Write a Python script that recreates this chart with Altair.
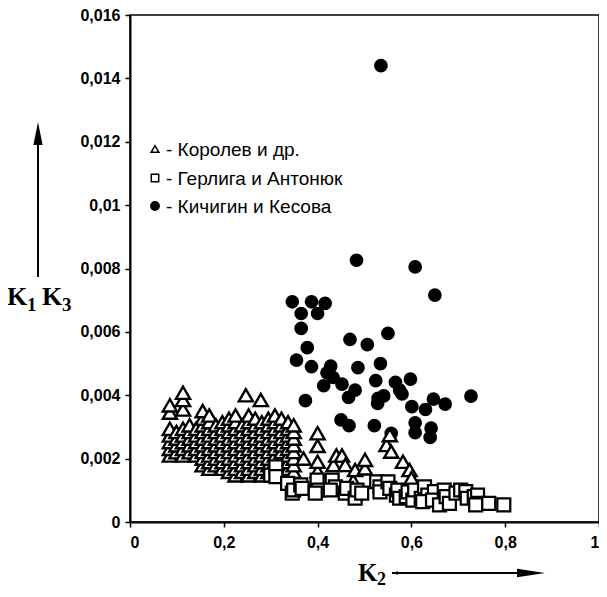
import altair as alt
import pandas as pd

# ---------------- data ----------------
SERIES = ["Королев и др.", "Герлига и Антонюк", "Кичигин и Кесова"]
LEGEND_LABELS = ["- Королев и др.", "- Герлига и Антонюк", "- Кичигин и Кесова"]

# Кичигин и Кесова (filled circles)
circ_k2 = [0.535, 0.483, 0.608, 0.650, 0.346, 0.387, 0.416, 0.365, 0.400, 0.365,
           0.550, 0.469, 0.506, 0.378, 0.355, 0.387, 0.428, 0.420, 0.433, 0.486,
           0.534, 0.413, 0.452, 0.480, 0.466, 0.524, 0.566, 0.575, 0.580, 0.598,
           0.529, 0.541, 0.528, 0.374, 0.601, 0.630, 0.647, 0.672, 0.727, 0.450,
           0.467, 0.521, 0.557, 0.608, 0.608, 0.642, 0.640]
circ_k1k3 = [0.0144, 0.00826, 0.00805, 0.00716, 0.00695, 0.00695, 0.0069, 0.00658, 0.00658, 0.00611,
             0.00595, 0.00576, 0.0056, 0.0055, 0.00511, 0.0049, 0.00492, 0.00471, 0.00456, 0.00487,
             0.005, 0.0043, 0.00435, 0.00416, 0.00393, 0.00446, 0.00441, 0.00416, 0.00404, 0.00451,
             0.0039, 0.00398, 0.00374, 0.00383, 0.00364, 0.00355, 0.00388, 0.00372, 0.00397, 0.00322,
             0.00304, 0.00304, 0.0028, 0.00313, 0.00282, 0.00296, 0.00267]

# Герлига и Антонюк (open squares)
sq_k2 = [0.300, 0.311, 0.311, 0.336, 0.346, 0.349, 0.364, 0.367, 0.399, 0.402,
         0.395, 0.431, 0.438, 0.427, 0.459, 0.462, 0.480, 0.484, 0.494, 0.526,
         0.533, 0.533, 0.550, 0.554, 0.568, 0.571, 0.575, 0.589, 0.593, 0.603,
         0.607, 0.621, 0.628, 0.635, 0.624, 0.649, 0.645, 0.660, 0.670, 0.674,
         0.681, 0.695, 0.705, 0.716, 0.719, 0.734, 0.741, 0.744, 0.737, 0.765, 0.797]
sq_k1k3 = [0.00148, 0.00174, 0.00143, 0.00122, 0.00091, 0.00101, 0.00117, 0.00106, 0.00132, 0.00101,
           0.00091, 0.00132, 0.00111, 0.00101, 0.00091, 0.00106, 0.00075, 0.00101, 0.00091, 0.00127,
           0.00111, 0.00095, 0.00127, 0.00106, 0.00085, 0.00101, 0.00075, 0.0008, 0.00095, 0.00069,
           0.00101, 0.00075, 0.00111, 0.00085, 0.00064, 0.00096, 0.00069, 0.00054, 0.00101, 0.0008,
           0.00059, 0.00091, 0.00101, 0.00096, 0.00075, 0.0008, 0.00085, 0.00059, 0.00054, 0.00059, 0.00054]

# Королев и др. (open triangles), read column by column
tri_k2 = [0.085, 0.099, 0.113, 0.127, 0.141, 0.155, 0.169, 0.183, 0.197, 0.211,
          0.225, 0.239, 0.253, 0.267, 0.281, 0.295, 0.309, 0.323, 0.337, 0.349,
          0.247, 0.279, 0.37, 0.40, 0.434, 0.44, 0.452, 0.459, 0.476, 0.48,
          0.501, 0.547, 0.554, 0.557, 0.582, 0.596, 0.600]
tri_k1k3 = [
    [0.0021, 0.00231, 0.00252, 0.00273, 0.00294, 0.00345, 0.00368],
    [0.0022, 0.00242, 0.00263, 0.00284],
    [0.0021, 0.00231, 0.00252, 0.00273, 0.00294, 0.00355, 0.00385, 0.00408],
    [0.0022, 0.00242, 0.00263, 0.00284, 0.00305],
    [0.0021, 0.00231, 0.00252, 0.00273, 0.00294],
    [0.00179, 0.0020, 0.00221, 0.00242, 0.00263, 0.00284, 0.00305, 0.00326, 0.0035],
    [0.00168, 0.00189, 0.0021, 0.00231, 0.00252, 0.00273, 0.00294, 0.00315, 0.00336],
    [0.00179, 0.0020, 0.00221, 0.00242, 0.00263, 0.00284, 0.00305],
    [0.00168, 0.00189, 0.0021, 0.00231, 0.00252, 0.00273, 0.00294, 0.00315],
    [0.00158, 0.00179, 0.0020, 0.00221, 0.00242, 0.00263, 0.00284, 0.00305, 0.00326],
    [0.00147, 0.00168, 0.00189, 0.0021, 0.00231, 0.00252, 0.00273, 0.00294, 0.00315, 0.00336],
    [0.00158, 0.00179, 0.0020, 0.00221, 0.00242, 0.00263, 0.00284, 0.00305],
    [0.00147, 0.00168, 0.00189, 0.0021, 0.00231, 0.00252, 0.00273, 0.00294, 0.00315, 0.00336],
    [0.00158, 0.00179, 0.0020, 0.00221, 0.00242, 0.00263, 0.00284, 0.00305, 0.00326],
    [0.00147, 0.00168, 0.00189, 0.0021, 0.00231, 0.00252, 0.00273, 0.00294, 0.00315],
    [0.00158, 0.00179, 0.0020, 0.00221, 0.00242, 0.00263, 0.00284, 0.00305, 0.00326],
    [0.00147, 0.00168, 0.00189, 0.0021, 0.00231, 0.00252, 0.00273, 0.00294, 0.00315, 0.00336],
    [0.00158, 0.00179, 0.0020, 0.00221, 0.00242, 0.00263, 0.00284, 0.00305, 0.00326],
    [0.00147, 0.00168, 0.00189, 0.0021, 0.00231, 0.00252, 0.00273, 0.00294, 0.00315],
    [0.00158, 0.00179, 0.0020, 0.00221, 0.00242, 0.00263, 0.00284, 0.00305],
    [0.0040],
    [0.00385],
    [0.0020],
    [0.0016, 0.0019, 0.0024, 0.0028],
    [0.0018],
    [0.0021],
    [0.0021],
    [0.0018],
    [0.0013],
    [0.00164],
    [0.00169, 0.00196],
    [0.00243],
    [0.00274],
    [0.00222],
    [0.0019],
    [0.00164],
    [0.00138],
]

x_ticks = [0, 0.2, 0.4, 0.6, 0.8, 1]
y_ticks = [0, 0.002, 0.004, 0.006, 0.008, 0.01, 0.012, 0.014, 0.016]

# ---------------- table ----------------
rows = []
for a, b in zip(circ_k2, circ_k1k3):
    rows.append({"k2": a, "k1k3": b, "series": SERIES[2]})
for a, col in zip(tri_k2, tri_k1k3):
    for b in col:
        rows.append({"k2": a, "k1k3": b, "series": SERIES[0]})
for a, b in zip(sq_k2, sq_k1k3):
    rows.append({"k2": a, "k1k3": b, "series": SERIES[1]})
df = pd.DataFrame(rows)

LBL = "replace(format(datum.value, '~g'), '.', ',')"

points = alt.Chart(df).mark_point(
    filled=True, stroke="black", opacity=1
).encode(
    x=alt.X("k2:Q", scale=alt.Scale(domain=[0, 1], nice=False),
            axis=alt.Axis(values=x_ticks, title=None, labelExpr=LBL, labelPadding=7)),
    y=alt.Y("k1k3:Q", scale=alt.Scale(domain=[0, 0.016], nice=False),
            axis=alt.Axis(values=y_ticks, title=None, labelExpr=LBL, labelPadding=5)),
    shape=alt.Shape("series:N", scale=alt.Scale(domain=SERIES, range=["triangle-up", "square", "circle"]),
                    legend=None),
    fill=alt.Fill("series:N", scale=alt.Scale(domain=SERIES, range=["white", "white", "black"]),
                  legend=None),
    size=alt.Size("series:N", scale=alt.Scale(domain=SERIES, range=[200, 135, 160]), legend=None),
    strokeWidth=alt.StrokeWidth("series:N", scale=alt.Scale(domain=SERIES, range=[2.4, 2.1, 0.5]),
                                legend=None),
)

one = pd.DataFrame({"a": [0]})
serif = "Liberation Serif"


def txt(s, x, y, size, font=serif, weight="bold", baseline="alphabetic"):
    return alt.Chart(one).mark_text(
        text=s, font=font, fontWeight=weight, fontSize=size, color="black",
        align="left", baseline=baseline
    ).encode(x=alt.value(x), y=alt.value(y))


def sym(shape, fill, x, y, size):
    return alt.Chart(one).mark_point(
        shape=shape, size=size, filled=True, fill=fill, stroke="black",
        strokeWidth=1.5, opacity=1
    ).encode(x=alt.value(x), y=alt.value(y))


# legend (inside the plot, upper left)
leg_y = [134, 163, 191]
legend = (
    sym("triangle-up", "white", 25, leg_y[0], 60)
    + sym("square", "white", 25, leg_y[1], 55)
    + sym("circle", "black", 25, leg_y[2], 70)
    + txt(LEGEND_LABELS[0], 36, leg_y[0] + 1, 19, "Liberation Sans", "normal", "middle")
    + txt(LEGEND_LABELS[1], 36, leg_y[1] + 1, 19, "Liberation Sans", "normal", "middle")
    + txt(LEGEND_LABELS[2], 36, leg_y[2] + 1, 19, "Liberation Sans", "normal", "middle")
)

# axis titles
ytitle = txt("K", -123, 290, 26) + txt("1", -103, 296, 19) + txt("K", -88, 290, 26) + txt("3", -68, 296, 19)
xtitle = txt("K", 228, 566, 25) + txt("2", 247, 570, 18)

# arrows
vline = alt.Chart(one).mark_rule(color="black", strokeWidth=2).encode(
    x=alt.value(-92), y=alt.value(128), y2=alt.value(262))
vhead = alt.Chart(one).mark_point(
    shape="M0,-1L0.4,1L-0.4,1Z", size=529, filled=True, color="black", opacity=1
).encode(x=alt.value(-92), y=alt.value(118.5))
hline = alt.Chart(one).mark_rule(color="black", strokeWidth=2).encode(
    x=alt.value(262), x2=alt.value(403), y=alt.value(558))
hhead = alt.Chart(one).mark_point(
    shape="M1,0L-1,-0.3L-1,0.3Z", size=784, filled=True, color="black", opacity=1
).encode(x=alt.value(401), y=alt.value(558))
lhead = alt.Chart(one).mark_point(
    shape="M-1,0L1,-0.6L1,0.6Z", size=36, filled=True, color="black", opacity=1
).encode(x=alt.value(265), y=alt.value(558))

chart = alt.layer(points, legend, ytitle, xtitle, vline, vhead, hline, hhead, lhead).properties(
    width=469, height=507,
    autosize=alt.AutoSizeParams(type="none"),
    padding={"left": 122, "top": 7, "right": 0, "bottom": 66},
).configure_view(
    stroke="black", strokeWidth=1.5
).configure_axis(
    grid=False, domainColor="black", domainWidth=2, tickColor="black", tickWidth=1.5,
    tickSize=5, labelFont="Liberation Sans", labelFontWeight="bold", labelFontSize=16,
    labelColor="black",
)

chart.save("out.html", embed_options={"renderer": "svg", "actions": False})
